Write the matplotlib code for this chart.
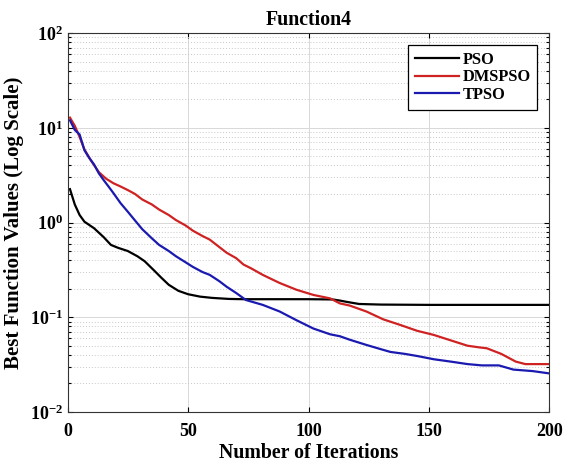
import math
import matplotlib.pyplot as plt
from matplotlib.ticker import LogLocator, FuncFormatter, NullFormatter

# Convergence curves (iteration, best value)
PSO_ITER = [1, 3, 5, 7, 11, 15, 18, 21, 25, 29, 32, 36, 39, 42, 46, 50, 55, 60, 67, 73, 80, 90, 100, 110, 113, 116, 121, 130, 150, 170, 200]
PSO_VAL = [2.25, 1.55, 1.2, 1.02, 0.87, 0.7, 0.58, 0.54, 0.5, 0.44, 0.39, 0.31, 0.26, 0.22, 0.19, 0.175, 0.165, 0.16, 0.156, 0.155, 0.155, 0.155, 0.155, 0.154, 0.15, 0.145, 0.138, 0.136, 0.135, 0.135, 0.135]

DMSPSO_ITER = [1, 3, 5, 7, 10, 13, 16, 19, 22, 25, 28, 31, 35, 38, 42, 45, 49, 52, 56, 59, 63, 66, 70, 73, 76, 81, 88, 95, 102, 109, 113, 117, 124, 131, 138, 145, 152, 159, 166, 171, 174, 180, 186, 190, 200]
DMSPSO_VAL = [12.8, 10.5, 8.0, 5.9, 4.4, 3.4, 2.9, 2.6, 2.4, 2.2, 2.0, 1.75, 1.55, 1.37, 1.2, 1.06, 0.93, 0.82, 0.72, 0.66, 0.55, 0.48, 0.42, 0.36, 0.33, 0.28, 0.23, 0.195, 0.172, 0.158, 0.14, 0.133, 0.115, 0.095, 0.083, 0.072, 0.065, 0.057, 0.05, 0.048, 0.047, 0.041, 0.034, 0.032, 0.032]

TPSO_ITER = [1, 3, 5, 7, 9, 11, 13, 15, 17, 19, 22, 25, 28, 31, 35, 38, 42, 45, 49, 52, 56, 59, 63, 66, 70, 74, 81, 88, 95, 102, 109, 113, 117, 124, 130, 134, 140, 145, 152, 159, 166, 172, 179, 185, 193, 200]
TPSO_VAL = [12.0, 9.5, 8.5, 5.8, 4.8, 4.1, 3.3, 2.8, 2.4, 2.05, 1.6, 1.3, 1.05, 0.85, 0.68, 0.58, 0.5, 0.44, 0.38, 0.34, 0.3, 0.28, 0.24, 0.21, 0.18, 0.152, 0.135, 0.115, 0.093, 0.076, 0.066, 0.063, 0.058, 0.051, 0.046, 0.043, 0.041, 0.039, 0.036, 0.034, 0.032, 0.031, 0.031, 0.028, 0.027, 0.0255]

SERIES = [("PSO", PSO_ITER, PSO_VAL, "#000000"),
          ("DMSPSO", DMSPSO_ITER, DMSPSO_VAL, "#cf2222"),
          ("TPSO", TPSO_ITER, TPSO_VAL, "#1a1ab0")]

FONT = "Liberation Serif"
plt.rcParams.update({
    "font.family": FONT,
    "font.weight": "bold",
    "mathtext.fontset": "custom",
    "mathtext.rm": f"{FONT}:bold",
    "mathtext.bf": f"{FONT}:bold",
    "mathtext.it": f"{FONT}:bold",
})


def main():
    fig = plt.figure(figsize=(5.63, 4.66), dpi=100)
    ax = fig.add_axes([0.12, 0.116, 0.856, 0.813])

    for name, it, val, color in SERIES:
        ax.plot(it, val, color=color, lw=1.6, label=name)

    ax.set_yscale("log")
    ax.set_xlim(0, 200)
    ax.set_ylim(1e-2, 1e2)
    ax.set_xticks([0, 50, 100, 150, 200])
    ax.yaxis.set_major_locator(LogLocator(base=10, numticks=10))
    ax.yaxis.set_minor_locator(LogLocator(base=10, subs=range(2, 10), numticks=20))
    ax.yaxis.set_major_formatter(FuncFormatter(lambda v, p: r"$10^{%d}$" % round(math.log10(v))))
    ax.yaxis.set_minor_formatter(NullFormatter())

    ax.grid(True, which="major", color="#d8d8d8", lw=0.7, ls="-")
    ax.grid(True, which="minor", axis="y", color="#c8c8c8", lw=0.7, ls=(0, (1, 2)))
    ax.tick_params(which="both", direction="in", top=True, right=True, labelsize=13, width=0.8)
    ax.tick_params(which="minor", length=2.5)
    ax.tick_params(axis="x", pad=8)
    for s in ax.spines.values():
        s.set_linewidth(0.8)
        s.set_color("#333333")

    ax.set_title("Function4", fontsize=14.3, fontweight="bold", pad=6)
    ax.set_xlabel("Number of Iterations", fontsize=14.3, fontweight="bold", labelpad=2)
    ax.set_ylabel("Best Function Values (Log Scale)", fontsize=15, fontweight="bold", labelpad=4)

    leg = ax.legend(loc="upper right", bbox_to_anchor=(0.974, 0.968), borderaxespad=0,
                    frameon=True, fancybox=False, edgecolor="#000000", framealpha=1,
                    handlelength=2.7, handletextpad=0.2, borderpad=0.4, labelspacing=0.1,
                    prop={"family": FONT, "weight": "bold", "size": 11.8})
    leg.get_frame().set_linewidth(0.9)

    fig.savefig("out.png", dpi=100)
    plt.close(fig)


if __name__ == "__main__":
    main()
